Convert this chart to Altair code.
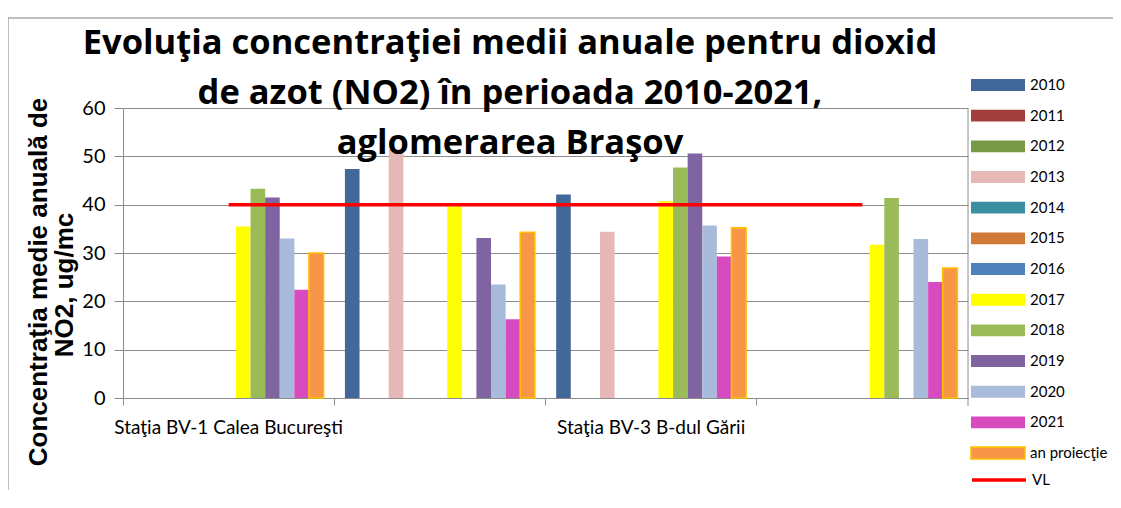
import altair as alt
import pandas as pd

# ---------------- data ----------------
stations = [
    "Staţia BV-1 Calea Bucureşti",
    "Staţia BV-2 Str. Castanilor",
    "Staţia BV-3 B-dul Gării",
    "Staţia BV-4 Sânpetru",
]
shown_labels = ["Staţia BV-1 Calea Bucureşti", "Staţia BV-3 B-dul Gării"]

series = ["2010", "2011", "2012", "2013", "2014", "2015", "2016",
          "2017", "2018", "2019", "2020", "2021", "an proiecţie"]
colors = ["#416899", "#A23F3D", "#789A47", "#E6B8B7", "#3A8FA3", "#D07A3A",
          "#4F81BD", "#FFFF00", "#9BBB59", "#8064A2", "#A9BBDB", "#D84BC0",
          "#F79646"]
borders = ["transparent"] * 12 + ["#FFC000"]
vl_name = "VL"
vl_color = "#FF0000"

# values per station, in the order of `series` (None = no bar)
v_bv1 = [None, None, None, None, None, None, None, 35.5, 43.3, 41.5, 33.0, 22.4, 30.0]
v_bv2 = [47.4, None, None, 51.3, None, None, None, 39.6, None, 33.1, 23.5, 16.3, 34.3]
v_bv3 = [42.1, None, None, 34.4, None, None, None, 40.7, 47.7, 50.6, 35.7, 29.3, 35.2]
v_bv4 = [None, None, None, None, None, None, None, 31.7, 41.4, None, 32.9, 24.0, 26.9]
vl_values = [40, 40, 40, 40]

title_lines = [
    "Evoluţia concentraţiei medii anuale pentru dioxid",
    "de azot (NO2) în perioada 2010-2021,",
    "aglomerarea Braşov",
]
ytitle_lines = ["Concentraţia medie anuală de", "NO2, ug/mc"]
y_ticks = [0, 10, 20, 30, 40, 50, 60]

# ---------------- tables ----------------
rows = []
for st, vals in zip(stations, [v_bv1, v_bv2, v_bv3, v_bv4]):
    for s, v in zip(series, vals):
        if v is not None:
            rows.append({"station": st, "series": s, "value": v})
df = pd.DataFrame(rows)
df_vl = pd.DataFrame({"station": stations, "name": [vl_name] * 4, "value": vl_values})
one = pd.DataFrame({"a": [0]})

W, H = 845, 290
GREY = "#8C8C8C"
FONT = "Lato"

x_enc = alt.X(
    "station:N",
    sort=stations,
    scale=alt.Scale(domain=stations, paddingInner=0, paddingOuter=0),
    axis=alt.Axis(
        title=None,
        bandPosition=0,
        labelAngle=0,
        labelAlign="center",
        labelBaseline="top",
        labelPadding=13,
        labelFont=FONT,
        labelFontSize=19,
        labelColor="#000000",
        labelLimit=400,
        labelExpr="(datum.value == '%s' || datum.value == '%s') ? datum.label : ''"
        % (shown_labels[0], shown_labels[1]),
        tickSize=7,
        tickColor=GREY,
        domainColor=GREY,
        grid=False,
    ),
)

y_enc = alt.Y(
    "value:Q",
    scale=alt.Scale(domain=[0, 60], nice=False, zero=True),
    axis=alt.Axis(
        title=None,
        values=y_ticks,
        grid=True,
        gridColor=GREY,
        gridWidth=1,
        domainColor=GREY,
        tickColor=GREY,
        tickSize=9,
        labelPadding=9,
        labelFont=FONT,
        labelFontSize=20,
        labelColor="#000000",
    ),
)


def bar_legend():
    return alt.Legend(
        title=None,
        orient="none",
        legendX=847,
        legendY=-32,
        direction="vertical",
        columns=1,
        padding=0,
        clipHeight=18,
        rowPadding=12.67,
        symbolSize=2916,
        symbolType="M-1,-0.22H1V0.22H-1Z",
        symbolStrokeWidth=1.6,
        symbolOpacity=1,
        labelFont=FONT,
        labelFontSize=15,
        labelColor="#000000",
        labelOffset=4,
        labelLimit=200,
    )


bars = alt.Chart(df).mark_bar(strokeWidth=1.6).encode(
    x=x_enc,
    xOffset=alt.XOffset(
        "series:N",
        sort=series,
        scale=alt.Scale(domain=series, paddingInner=0, paddingOuter=0.73),
    ),
    y=y_enc,
    color=alt.Color("series:N", scale=alt.Scale(domain=series, range=colors),
                    legend=bar_legend()),
    stroke=alt.Stroke("series:N", scale=alt.Scale(domain=series, range=borders),
                      legend=bar_legend()),
)

vl_line = alt.Chart(df_vl).mark_line(strokeWidth=3.5, color=vl_color).encode(
    x=alt.X("station:N", sort=stations),
    y=alt.Y("value:Q"),
    strokeDash=alt.StrokeDash(
        "name:N",
        scale=alt.Scale(domain=[vl_name], range=[[1, 0]]),
        legend=alt.Legend(
            title=None,
            orient="none",
            legendX=847,
            legendY=363,
            padding=0,
            clipHeight=18,
            symbolType="stroke",
            symbolSize=2916,
            symbolStrokeColor=vl_color,
            symbolStrokeWidth=3.5,
            symbolOpacity=1,
            labelFont=FONT,
            labelFontSize=15,
            labelColor="#000000",
            labelOffset=4,
        ),
    ),
)

right_edge = alt.Chart(one).mark_rule(color=GREY, strokeWidth=1).encode(
    x=alt.value(W), y=alt.value(0), y2=alt.value(H + 8)
)
frame_top = alt.Chart(one).mark_rule(color="#7F7F7F", strokeWidth=1).encode(
    x=alt.value(-115), x2=alt.value(1000), y=alt.value(-90)
)
frame_left = alt.Chart(one).mark_rule(color="#7F7F7F", strokeWidth=1).encode(
    x=alt.value(-115), y=alt.value(-90), y2=alt.value(420)
)

title_layers = [
    alt.Chart(one).mark_text(
        font="Open Sans", fontSize=34.5, fontWeight="bold", color="#000000",
        align="center", baseline="alphabetic",
    ).encode(text=alt.value(t), x=alt.value(387), y=alt.value(yy))
    for t, yy in zip(title_lines, [-54, -4, 46])
]

ytitle_layers = [
    alt.Chart(one).mark_text(
        font="Liberation Sans", fontSize=26, fontWeight="bold", color="#000000",
        align="center", baseline="middle", angle=270,
    ).encode(text=alt.value(t), x=alt.value(xx), y=alt.value(yy))
    for t, xx, yy in zip(ytitle_lines, [-84, -58], [174, 177])
]

chart = alt.layer(
    bars, vl_line, right_edge, frame_top, frame_left, *title_layers, *ytitle_layers
).properties(
    width=W,
    height=H,
    padding={"left": 115, "top": 100, "right": 145, "bottom": 92},
    autosize=alt.AutoSizeParams(type="none"),
    background="#FFFFFF",
).configure_view(stroke=None)

chart.save("out.html", embed_options={"renderer": "svg", "actions": False})
